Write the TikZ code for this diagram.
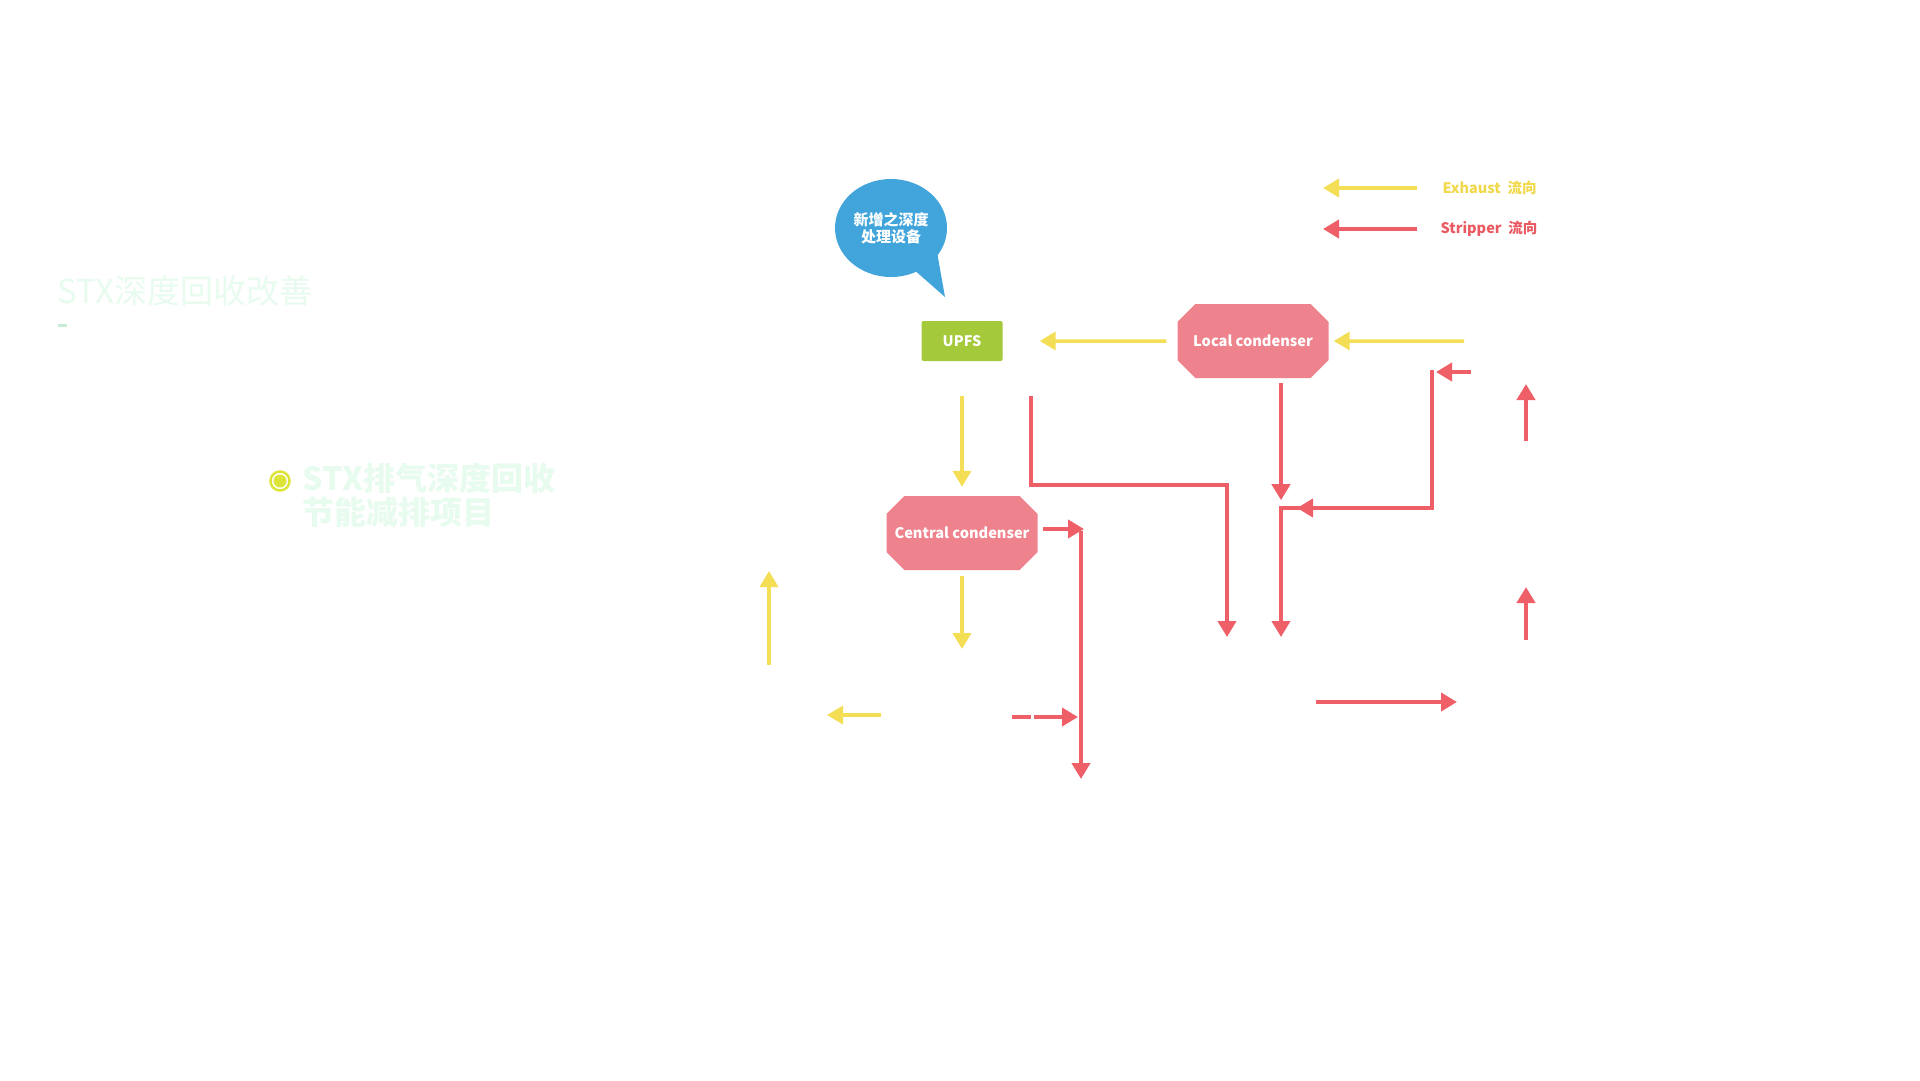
\documentclass[tikz,border=0pt]{standalone}
\usepackage{fontspec}
\setmainfont{Noto Sans CJK SC}
\usepackage{tikz}
\usetikzlibrary{arrows.meta}
\usetikzlibrary{shapes.misc,shapes.geometric}

\definecolor{yel}{HTML}{F3DE55}
\definecolor{rd}{HTML}{EE5F68}
\definecolor{pk}{HTML}{EF838D}
\definecolor{grn}{HTML}{A4C93A}
\definecolor{blu}{HTML}{41A4DB}
\definecolor{ylt}{HTML}{F0D94C}
\definecolor{rdt}{HTML}{EA5A62}
\definecolor{pg}{HTML}{E8FBEF}
\definecolor{pgd}{HTML}{C8EBD3}
\definecolor{bul}{HTML}{DCE537}

\begin{document}
\begin{tikzpicture}
[x=1pt,y=-1pt
,ya/.style={draw=yel,line width=3.5pt,arrows={-Triangle[length=16pt,width=18pt]}}
,ra/.style={draw=rd,line width=4pt,arrows={-Triangle[length=16pt,width=18pt]}}
,cond/.style={chamfered rectangle,chamfered rectangle xsep=9pt,chamfered rectangle ysep=12pt
  ,fill=pk,text=white,font=\fontsize{14.6}{17}\selectfont\bfseries
  ,minimum width=151pt,minimum height=74pt,inner sep=0pt}
,lg/.style={anchor=west,font=\fontsize{14.5}{16}\selectfont\bfseries}
]
\fill[white] (0,0) rectangle (1920,1080);
\useasboundingbox (0,0) rectangle (1920,1080);

% title and project name
\node[anchor=west,text=pg,font=\fontsize{33}{36}\selectfont] (ttl) at (54,291) {STX深度回收改善};
\fill[pgd] (58,323.5) rectangle (67,326.5);
\draw[bul,line width=2.5pt] (280,481) circle (9.5pt);
\fill[bul] (280,481) circle (6.5pt);
\node[anchor=west,align=left,text=pg,font=\fontsize{32}{34}\selectfont\bfseries] (sub) at (299,495) {STX排气深度回收\\节能减排项目};

% equipment
\node[ellipse,fill=blu,minimum width=112pt,minimum height=98pt,inner sep=0pt,text=white,align=center
  ,font=\fontsize{15}{16.5}\selectfont\bfseries] (bub) at (891,228) {新增之深度\\处理设备};
\fill[blu] (912,268) -- (945,297) -- (937,252) -- cycle;
\node[fill=grn,rounded corners=2pt,text=white,font=\fontsize{14.5}{17}\selectfont\bfseries
  ,minimum width=81pt,minimum height=40pt,inner sep=0pt] (upfs) at (962,341) {UPFS};
\node[cond] (loc) at (1253,341) {Local condenser};
\node[cond] (cen) at (962,533) {Central condenser};

% free ends
\coordinate (yin) at (1464,341);
\coordinate (yout) at (962,649);
\coordinate (yup1) at (769,665);
\coordinate (yup2) at (769,571);
\coordinate (yl1) at (881,715);
\coordinate (yl2) at (827,715);
\coordinate (r1s) at (1031,396);
\coordinate (r1e) at (1227,637);
\coordinate (r3s) at (1471,372);
\coordinate (r3e) at (1436,372);
\coordinate (r4s) at (1432,370);
\coordinate (r4e) at (1281,637);
\coordinate (r5e) at (1084,529);
\coordinate (r6s) at (1081,531);
\coordinate (r6e) at (1081,779);
\coordinate (r7s) at (1012,717);
\coordinate (r7e) at (1078,717);
\coordinate (r8s) at (1526,441);
\coordinate (r8e) at (1526,384);
\coordinate (r9s) at (1526,640);
\coordinate (r9e) at (1526,587);
\coordinate (r10s) at (1316,702);
\coordinate (r10e) at (1457,702);

% exhaust flow
\draw[ya,shorten >=5pt] (yin) -- (loc);
\draw[ya,shorten <=11pt,shorten >=37pt] (loc) -- (upfs);
\draw[ya,shorten <=35pt,shorten >=9pt] (upfs) -- (cen);
\draw[ya,shorten <=6pt] (cen) -- (yout);
\draw[ya] (yup1) -- (yup2);
\draw[ya] (yl1) -- (yl2);

% stripper flow
\draw[ra] (r1s) |- (1227,485) -- (r1e);
\draw[ra] ([xshift=28pt,yshift=-5pt]loc.south) -- ([xshift=28pt,yshift=-122pt]loc.south);
\draw[ra] (r3s) -- (r3e);
\draw[ra] (r4s) |- (1281,508) -- (r4e);
\draw[ra] (1320,508) -- (1297,508);
\draw[ra,shorten <=5pt] (cen.east |- r5e) -- (r5e);
\draw[ra] (r6s) -- (r6e);
\draw[ra,dash pattern=on 19pt off 3pt on 200pt] (r7s) -- (r7e);
\draw[ra] (r8s) -- (r8e);
\draw[ra] (r9s) -- (r9e);
\draw[ra] (r10s) -- (r10e);

% legend
\coordinate (lgy) at (1417,188);
\coordinate (lgr) at (1417,229);
\draw[ya] (lgy) -- ++(-94,0);
\draw[ra] (lgr) -- ++(-94,0);
\node[lg,text=ylt] (lgyt) at (1439,188) {Exhaust\ \ 流向};
\node[lg,text=rdt] (lgrt) at (1437,229) {Stripper\ \ 流向};
\end{tikzpicture}
\end{document}
